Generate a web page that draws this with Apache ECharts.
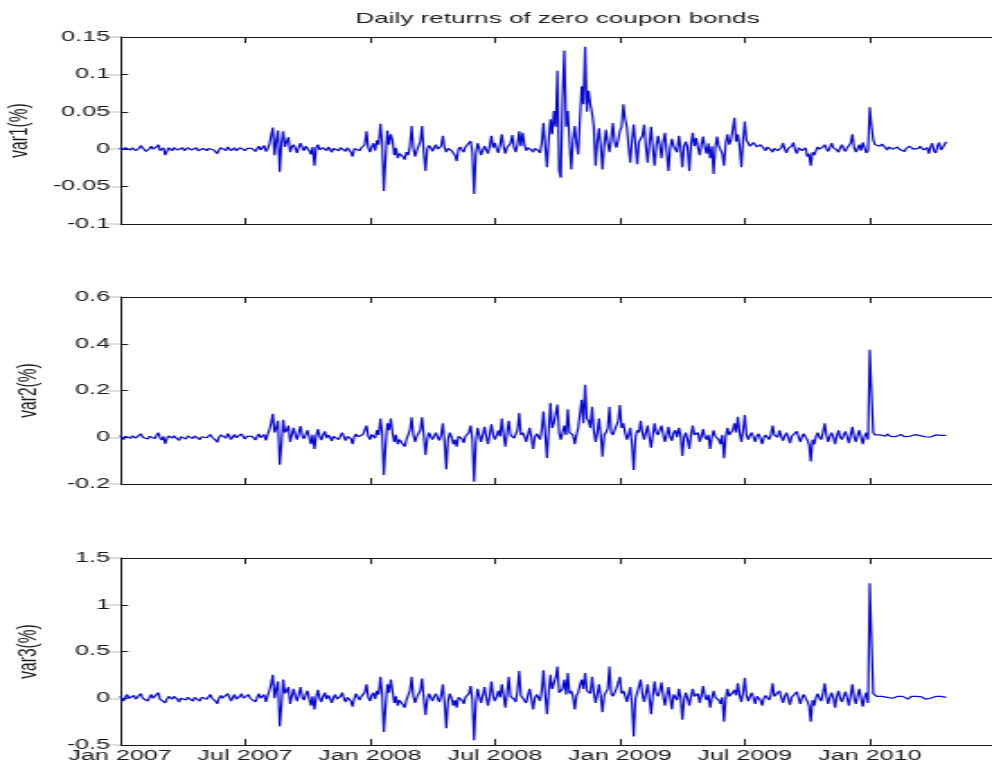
<!DOCTYPE html>
<html>
<head>
<meta charset="utf-8">
<script src="https://cdn.jsdelivr.net/npm/echarts@6/dist/echarts.min.js"></script>
<style>
  html, body { margin: 0; padding: 0; background: #fff; overflow: hidden; }
  #wrap { width: 992px; height: 769px; overflow: hidden; position: relative; }
  /* figure is laid out narrow and widened horizontally, like the exported bitmap */
  #chart { width: 552px; height: 769px; transform: scaleX(1.797101); transform-origin: 0 0; }
</style>
</head>
<body>
<div id="wrap"><div id="chart"></div></div>
<script>
// samples every 1/12 month, starting Jan 2007
const STEP_MONTHS = 1 / 12;

const xTickLabels = ['Jan 2007', 'Jul 2007', 'Jan 2008', 'Jul 2008', 'Jan 2009', 'Jul 2009', 'Jan 2010'];

const var1 = [
0.002,-0.001,-0.003,0.002,0.004,0.000,-0.001,0.002,0.003,-0.002,-0.002,0.001,0.005,0.002,0.001,-0.003,-0.002,0.001,0.004,0.000,
-0.001,0.003,0.006,-0.002,-0.004,0.002,-0.008,-0.003,0.002,0.000,-0.002,0.002,0.001,-0.001,-0.003,0.001,0.002,-0.002,-0.001,0.002,
0.001,-0.001,-0.002,0.001,0.002,-0.002,-0.004,0.000,0.001,0.002,-0.002,0.001,0.003,0.000,-0.001,-0.003,-0.006,-0.001,0.002,0.000,
0.000,-0.002,0.003,0.001,-0.002,0.000,0.002,-0.002,-0.001,0.002,0.004,0.000,-0.002,0.001,0.003,-0.001,0.001,0.002,-0.003,0.001,
0.004,-0.001,0.002,0.005,-0.003,0.000,0.006,0.018,0.029,-0.008,0.012,0.025,-0.030,0.008,0.024,0.003,0.010,0.016,-0.004,0.003,
0.006,0.001,-0.005,0.003,0.008,0.002,-0.002,0.004,0.005,-0.002,-0.007,0.003,-0.022,0.002,0.006,-0.001,-0.003,0.002,0.004,-0.002,
0.003,0.000,-0.004,0.001,0.002,-0.001,-0.002,0.002,0.004,0.000,-0.003,0.002,0.001,-0.004,-0.010,0.001,0.003,0.001,-0.002,0.002,
0.004,0.006,0.024,0.002,-0.004,0.003,0.008,-0.002,0.012,0.006,0.034,0.010,-0.056,-0.012,0.025,0.006,0.020,0.012,-0.008,0.002,
-0.012,-0.006,-0.004,-0.010,-0.014,-0.004,-0.008,0.004,0.031,0.002,-0.010,-0.002,0.004,0.010,0.031,-0.004,-0.029,0.000,0.005,0.002,
-0.003,0.002,0.006,0.000,-0.002,0.004,0.018,0.002,-0.004,0.001,0.002,-0.002,-0.003,-0.008,-0.016,0.000,0.003,-0.001,-0.004,0.003,
0.002,0.004,0.011,-0.004,-0.060,-0.006,0.008,0.001,-0.008,-0.002,0.004,0.006,-0.006,0.004,0.018,0.002,0.008,0.000,-0.005,0.006,
0.020,0.004,-0.006,0.002,0.004,0.008,0.019,0.002,-0.004,0.006,0.024,0.004,0.022,0.006,-0.002,0.002,0.003,-0.001,-0.004,0.001,
0.002,-0.002,-0.005,0.008,0.035,0.004,-0.024,0.012,0.040,0.020,0.051,0.030,0.105,-0.029,-0.038,0.069,0.132,0.030,0.051,0.010,
-0.027,0.012,0.031,0.008,-0.007,0.040,0.084,0.060,0.137,0.050,0.078,0.060,0.048,0.030,-0.022,0.010,0.028,0.004,-0.027,0.006,
0.026,0.008,-0.004,0.014,0.035,0.010,0.002,0.012,0.024,0.030,0.060,0.040,0.030,0.004,-0.018,0.012,0.033,0.006,-0.020,0.010,
0.010,0.018,0.033,0.004,-0.018,0.008,0.030,0.002,-0.022,0.004,0.018,0.006,-0.012,0.010,0.022,-0.004,-0.029,0.002,0.014,0.004,
0.006,-0.004,0.018,0.002,-0.024,0.004,0.010,0.002,-0.029,0.006,0.022,0.004,0.015,0.002,-0.008,0.006,0.017,0.002,-0.006,0.008,
-0.012,0.004,-0.033,0.002,0.017,0.004,0.005,-0.006,-0.022,0.008,0.020,0.006,0.012,0.026,0.042,0.010,0.020,0.004,-0.024,0.012,
0.037,0.012,0.010,0.004,0.006,0.009,0.008,0.003,0.002,0.006,0.005,0.001,-0.002,0.003,0.004,-0.001,-0.004,0.001,0.003,-0.002,
-0.003,0.002,0.008,0.000,-0.005,0.001,0.002,0.004,0.009,-0.001,-0.006,0.002,0.001,-0.002,-0.004,0.002,-0.010,-0.006,-0.022,-0.004,
-0.008,-0.002,0.003,0.000,-0.002,0.003,0.006,0.001,-0.003,0.002,0.008,0.002,0.001,-0.001,-0.004,0.002,0.006,0.000,-0.003,0.002,
0.004,0.008,0.020,0.002,-0.004,0.001,0.006,-0.002,0.009,0.002,-0.005,-0.002,0.056,0.031,0.012,0.006,0.008,0.004,0.004,0.007,
0.006,0.002,-0.001,0.003,0.004,0.000,-0.002,0.002,0.003,0.000,0.001,-0.002,-0.003,0.001,0.002,0.004,0.004,0.000,-0.002,0.002,
0.001,0.004,0.003,-0.001,-0.002,0.002,-0.006,0.003,0.008,-0.002,-0.005,0.004,0.009,-0.001,0.002,0.006,0.010];

const var2 = [
0.008,0.000,-0.010,0.004,0.012,0.002,-0.004,0.006,0.006,-0.004,-0.012,0.004,0.015,0.000,0.002,-0.006,-0.008,0.004,0.010,0.002,
-0.006,0.008,0.020,-0.002,-0.012,0.004,-0.028,-0.006,0.006,0.000,-0.004,0.006,0.010,-0.002,-0.014,0.002,0.004,-0.002,-0.008,0.006,
0.004,-0.002,-0.006,0.006,0.012,-0.002,-0.010,0.002,0.004,0.008,-0.002,0.004,0.012,0.000,-0.008,-0.012,-0.022,0.000,0.010,0.002,
0.002,-0.004,0.016,0.004,-0.010,0.002,0.012,-0.002,-0.004,0.006,0.014,0.002,-0.008,0.004,0.012,0.000,0.004,0.008,-0.012,0.004,
0.014,-0.002,0.006,0.012,-0.014,0.010,0.030,0.060,0.100,0.020,0.040,0.070,-0.118,-0.030,0.075,0.020,0.030,0.050,-0.020,0.010,
0.040,0.010,-0.010,0.020,0.048,0.004,-0.006,0.012,0.030,0.000,-0.030,0.010,-0.050,0.006,0.035,0.004,-0.012,0.010,0.025,-0.004,
0.010,0.000,-0.016,0.004,0.012,-0.004,-0.010,0.006,0.020,0.002,-0.014,0.004,0.008,-0.006,-0.030,0.002,0.014,0.002,-0.006,0.008,
0.012,0.020,0.050,0.004,-0.010,0.012,0.020,-0.004,0.030,0.010,0.080,0.020,-0.161,-0.040,0.060,0.030,0.080,0.020,-0.020,0.010,
-0.030,-0.010,-0.012,-0.030,-0.040,-0.010,0.010,0.030,0.085,0.010,-0.020,0.004,0.010,0.030,0.085,0.010,-0.076,-0.010,0.020,0.004,
-0.010,0.006,0.020,0.000,-0.014,0.010,0.060,-0.020,-0.137,-0.010,0.020,0.002,-0.030,-0.010,-0.040,0.004,0.010,-0.006,-0.024,0.004,
0.006,0.020,0.050,-0.010,-0.190,-0.020,0.040,0.010,-0.020,0.010,0.045,0.004,-0.030,0.010,0.055,0.010,-0.010,0.008,0.030,0.004,
0.080,0.010,-0.040,0.020,0.070,0.010,0.010,-0.004,-0.012,0.030,0.104,0.010,0.020,0.004,-0.020,0.010,0.040,0.000,-0.050,0.000,
0.015,0.004,-0.010,0.030,0.110,0.010,-0.089,0.030,0.146,0.040,0.060,0.100,0.140,0.020,-0.010,0.020,0.050,0.010,0.120,0.020,
0.020,0.010,-0.030,0.010,0.040,0.100,0.160,0.060,0.224,0.080,0.070,0.040,0.130,0.030,-0.020,0.020,0.080,0.010,-0.083,0.010,
0.020,0.040,0.130,0.020,0.010,0.030,0.050,0.070,0.138,0.040,0.060,0.020,-0.010,0.010,0.040,-0.030,-0.140,0.000,0.030,0.020,
0.070,0.020,-0.010,0.020,0.050,0.000,-0.045,0.010,0.060,0.020,0.010,0.030,0.050,0.010,-0.020,0.010,0.045,0.000,-0.015,0.020,
0.030,0.000,0.040,0.010,-0.080,0.000,0.020,-0.010,-0.050,0.010,0.050,0.010,0.010,0.020,-0.020,0.004,0.035,0.000,-0.010,0.010,
-0.050,0.000,0.030,0.004,0.010,-0.010,-0.030,0.010,-0.090,0.000,0.040,0.010,0.020,0.030,0.060,0.020,0.088,0.020,-0.020,0.030,
0.095,0.010,-0.010,0.010,0.020,0.000,-0.020,0.006,0.015,-0.006,-0.030,0.000,0.010,0.004,-0.010,0.010,0.050,0.010,0.010,0.000,
0.030,0.004,-0.015,0.006,0.020,0.000,-0.025,0.004,0.010,0.006,0.025,0.000,-0.020,0.004,0.015,0.000,-0.010,-0.030,-0.104,-0.010,
-0.030,0.004,0.020,0.000,-0.010,0.020,0.060,0.010,-0.020,0.004,0.020,0.000,-0.030,0.006,0.030,0.000,-0.010,0.010,0.025,0.000,
-0.025,0.010,0.045,0.000,-0.020,0.010,0.030,0.000,-0.030,0.004,0.020,-0.010,0.374,0.195,0.020,0.010,0.012,0.006,0.010,0.008,
0.008,0.004,0.014,0.006,0.004,0.008,0.010,0.003,0.006,0.010,0.012,0.005,0.002,0.007,0.009,0.004,0.005,0.008,0.011,0.004,
0.004,0.007,0.008,0.002,0.002,0.006,0.006,0.001,-0.002,0.006,0.010,0.003,0.004,0.008,0.012,0.005,0.008];

const var3 = [
0.02,0.00,-0.03,0.01,0.04,0.00,-0.01,0.02,0.03,-0.01,-0.02,0.01,0.05,0.00,0.01,-0.02,-0.03,0.01,0.04,0.00,
-0.02,0.02,0.06,-0.01,-0.03,0.01,-0.05,-0.01,0.02,0.00,-0.01,0.02,0.03,-0.01,-0.04,0.00,0.02,-0.01,-0.02,0.01,
0.01,-0.01,-0.03,0.01,0.03,0.00,-0.03,0.01,0.01,0.02,-0.01,0.01,0.04,0.00,-0.02,-0.03,-0.06,0.00,0.03,0.00,
0.00,-0.01,0.05,0.01,-0.03,0.01,0.04,-0.01,-0.01,0.02,0.05,0.00,-0.02,0.01,0.04,0.00,0.01,0.02,-0.04,0.01,
0.05,0.00,0.02,0.04,-0.04,0.02,0.08,0.15,0.25,0.00,0.10,0.18,-0.30,-0.08,0.20,0.05,0.08,0.12,-0.06,0.02,
0.10,0.02,-0.03,0.04,0.12,0.01,-0.02,0.04,0.08,-0.01,-0.08,0.02,-0.12,0.01,0.09,0.00,-0.04,0.02,0.06,-0.01,
0.03,0.00,-0.05,0.01,0.04,-0.01,-0.03,0.02,0.06,0.00,-0.04,0.01,0.02,-0.03,-0.09,0.00,0.05,0.01,-0.02,0.02,
0.04,0.06,0.15,0.01,-0.03,0.03,0.06,-0.01,0.08,0.04,0.23,0.05,-0.36,-0.10,0.15,0.06,0.20,0.08,-0.05,0.02,
-0.08,-0.02,-0.03,-0.07,-0.10,-0.02,0.03,0.08,0.23,0.02,-0.05,0.01,0.03,0.08,0.21,0.00,-0.18,-0.02,0.05,0.01,
-0.03,0.02,0.05,0.00,-0.04,0.03,0.15,-0.05,-0.32,-0.03,0.05,0.00,-0.08,-0.02,-0.10,0.01,0.03,-0.02,-0.06,0.01,
0.02,0.05,0.13,-0.02,-0.45,-0.05,0.10,0.02,-0.05,0.03,0.12,0.01,-0.08,0.02,0.18,0.02,-0.03,0.02,0.08,0.01,
0.15,0.03,-0.10,0.05,0.23,0.02,0.03,-0.01,-0.04,0.08,0.29,0.03,0.05,0.01,-0.05,0.03,0.10,0.00,-0.12,0.00,
0.04,0.01,-0.03,0.08,0.30,0.03,-0.17,0.06,0.25,0.10,0.12,0.22,0.34,0.06,0.05,0.10,0.20,0.04,0.27,0.05,
0.08,0.02,-0.12,0.03,0.06,0.14,0.20,0.10,0.27,0.08,0.10,0.05,0.23,0.06,-0.05,0.04,0.15,0.02,-0.15,0.03,
0.05,0.10,0.34,0.05,0.02,0.06,0.10,0.12,0.23,0.05,0.08,0.03,-0.04,0.04,0.12,-0.06,-0.41,0.00,0.06,0.05,
0.20,0.04,-0.04,0.05,0.15,0.00,-0.17,0.03,0.18,0.05,0.02,0.08,0.17,0.02,-0.08,0.03,0.12,0.00,-0.12,0.04,
0.05,-0.02,0.10,0.01,-0.23,-0.02,0.06,0.00,-0.08,0.02,0.10,0.02,0.03,0.05,-0.05,0.03,0.13,0.02,-0.02,0.04,
-0.10,0.00,0.08,0.01,0.02,-0.02,-0.06,0.01,-0.25,0.00,0.10,0.02,0.04,0.06,0.09,0.03,0.16,0.03,-0.04,0.06,
0.22,0.03,-0.03,0.02,0.06,0.00,-0.06,0.02,0.04,-0.02,-0.08,0.00,0.03,0.01,-0.02,0.04,0.16,0.02,0.02,0.00,
0.08,0.01,-0.05,0.02,0.06,0.00,-0.07,0.01,0.03,0.02,0.07,0.00,-0.06,0.01,0.04,0.00,-0.03,-0.08,-0.25,-0.02,
-0.08,0.01,0.05,0.00,-0.03,0.05,0.16,0.02,-0.06,0.01,0.06,0.00,-0.10,0.02,0.08,0.00,-0.04,0.02,0.07,0.00,
-0.08,0.03,0.15,0.00,-0.06,0.03,0.10,0.00,-0.09,0.01,0.06,-0.05,1.23,0.64,0.05,0.03,0.02,0.01,0.03,0.02,
0.03,0.01,0.01,0.02,0.02,0.00,-0.01,0.01,0.02,0.01,0.00,0.02,0.015,0.00,-0.01,0.01,0.02,0.00,0.01,0.02,
0.00,0.01,0.015,0.00,-0.01,0.01,0.01,0.00,-0.02,0.00,0.02,0.01,0.005,0.02,0.025,0.01,0.01];

const panelNames = ['var1(%)', 'var2(%)', 'var3(%)'];
const panelSeries = [var1, var2, var3];
const yRanges = [
  { min: -0.1, max: 0.15, interval: 0.05 },
  { min: -0.2, max: 0.6, interval: 0.2 },
  { min: -0.5, max: 1.5, interval: 0.5 }
];
const gridTops = [37, 297, 558];
const GRID_H = 187;

const FONT = 'Liberation Sans, Arial, Helvetica, sans-serif';
const INK = '#1a1a1a';
const LINE_BLUE = '#0808d2';

const grids = [], xAxes = [], yAxes = [], series = [];

panelSeries.forEach((vals, k) => {
  // the frame's right edge lies just beyond the figure border
  grids.push({
    left: 66.8, right: -1.5, top: gridTops[k], height: GRID_H,
    containLabel: false, outerBoundsMode: 'none'
  });

  const xBase = {
    type: 'value', gridIndex: k, min: 0, max: 42, interval: 6,
    axisLine: { show: true, onZero: false, lineStyle: { color: INK, width: 1 } },
    axisTick: { show: true, inside: true, length: 6, lineStyle: { color: INK } },
    splitLine: { show: false }
  };
  xAxes.push(Object.assign({}, xBase, {
    position: 'bottom',
    axisLabel: {
      show: k === 2, margin: 4, fontFamily: FONT, fontSize: 14, color: INK,
      formatter: v => {
        const idx = Math.round(v / 6);
        return (Math.abs(v - idx * 6) < 1e-6 && xTickLabels[idx]) ? xTickLabels[idx] : '';
      }
    }
  }));
  xAxes.push(Object.assign({}, xBase, { position: 'top', axisLabel: { show: false } }));

  const r = yRanges[k];
  yAxes.push({
    type: 'value', gridIndex: k, position: 'left',
    min: r.min, max: r.max, interval: r.interval,
    name: panelNames[k], nameLocation: 'middle', nameRotate: 90, nameGap: 43,
    nameTextStyle: { fontFamily: FONT, fontSize: 15.5, color: INK },
    axisLine: { show: true, onZero: false, lineStyle: { color: INK, width: 1 } },
    axisTick: { show: true, inside: true, length: 4.5, lineStyle: { color: INK } },
    axisLabel: {
      margin: 5.5, fontFamily: FONT, fontSize: 14, color: INK,
      formatter: v => String(parseFloat(v.toFixed(2)))
    },
    splitLine: { show: false }
  });
  // right-hand frame edge: only its faint inward ticks reach the visible area
  yAxes.push({
    type: 'value', gridIndex: k, position: 'right',
    min: r.min, max: r.max, interval: r.interval,
    axisLine: { show: false },
    axisTick: { show: true, inside: true, length: 7.5, lineStyle: { color: '#dedede', width: 2 } },
    axisLabel: { show: false },
    splitLine: { show: false }
  });

  series.push({
    type: 'line',
    xAxisIndex: 2 * k, yAxisIndex: 2 * k,
    data: vals.map((v, i) => [i * STEP_MONTHS, v]),
    showSymbol: false, symbol: 'none',
    lineStyle: { color: LINE_BLUE, width: 1.2 },
    animation: false, silent: true
  });
});

const chart = echarts.init(document.getElementById('chart'), null, { renderer: 'canvas' });
chart.setOption({
  backgroundColor: '#fff',
  animation: false,
  title: {
    text: 'Daily returns of zero coupon bonds',
    left: 310.2, top: 11, padding: 0, textAlign: 'center',
    textStyle: { fontFamily: FONT, fontSize: 14.5, fontWeight: 'normal', color: INK }
  },
  grid: grids,
  xAxis: xAxes,
  yAxis: yAxes,
  series: series
});
</script>
</body>
</html>
